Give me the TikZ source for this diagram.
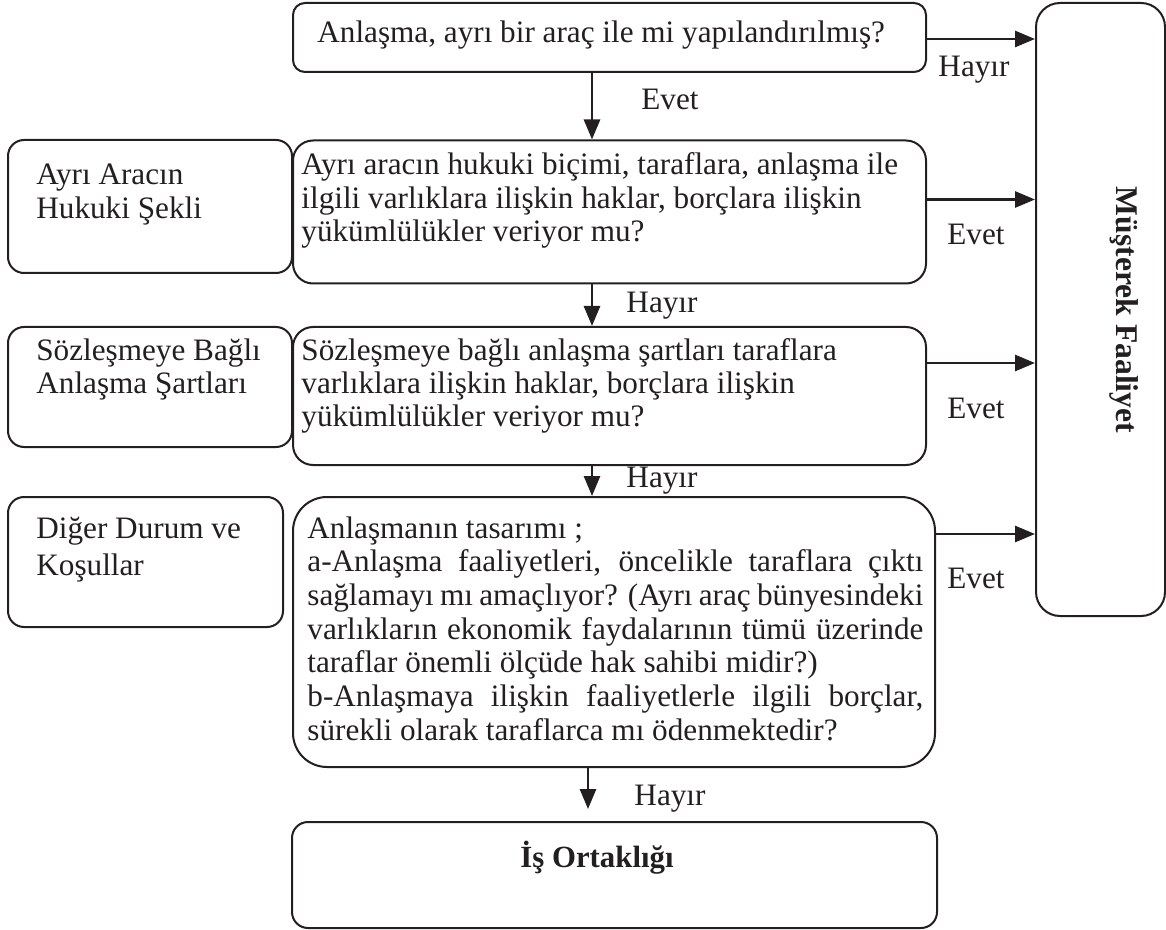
\documentclass[tikz,border=0pt]{standalone}
\usepackage{fontspec}
\setmainfont{Liberation Serif}
\usetikzlibrary{arrows.meta,calc}
\definecolor{ink}{HTML}{231F20}

\tikzset{
  box/.style={draw=ink, line width=1pt, rounded corners=#1, inner sep=0pt},
  box/.default=7pt,
  txt/.style={text=ink, inner sep=0pt, anchor=base west, font=\fontsize{15.6}{16.7}\selectfont},
  lbl/.style={text=ink, inner sep=0pt, anchor=base, font=\fontsize{15.6}{16.7}\selectfont},
  arr/.style={draw=ink, line width=1.4pt, -{Triangle[length=10pt,width=8pt]}},
}

\begin{document}
\begin{tikzpicture}[x=0.5pt,y=-0.5pt]
\useasboundingbox (0,0) rectangle (1166,930);

% question boxes (middle column)
\node[box=6pt,  minimum width=316.5pt, minimum height=34.5pt] (q1) at (609.5,37.5) {};
\node[box=10pt, minimum width=316.5pt, minimum height=71.5pt] (q2) at (609.5,212) {};
\node[box=10pt, minimum width=316.5pt, minimum height=69pt]   (q3) at (609.5,396) {};
\node[box=17pt, minimum width=321pt,   minimum height=135pt]  (q4) at (614,632) {};

% criteria boxes (left column)
\node[box=8pt, minimum width=142pt,   minimum height=66.5pt] (l1) at (150,206.5) {};
\node[box=8pt, minimum width=142pt,   minimum height=60pt]   (l2) at (150,387) {};
\node[box=8pt, minimum width=137.5pt, minimum height=65pt]   (l3) at (145.5,562) {};

% outcome boxes
\node[box=12pt, minimum width=64.5pt,  minimum height=306.5pt] (mf)  at (1100.5,309.5) {};
\node[box=8pt,  minimum width=322.5pt, minimum height=53pt]    (res) at (614.5,875) {};

% texts
\node[txt] (t1) at (317,43) {Anlaşma, ayrı bir araç ile mi yapılandırılmış?};
\node[txt] (t2) at (301,175) {\parbox[t]{320pt}{Ayrı aracın hukuki biçimi, taraflara, anlaşma ile\\
ilgili varlıklara ilişkin haklar, borçlara ilişkin\\
yükümlülükler veriyor mu?}};
\node[txt] (t3) at (301,360) {\parbox[t]{320pt}{Sözleşmeye bağlı anlaşma şartları taraflara\\
varlıklara ilişkin haklar, borçlara ilişkin\\
yükümlülükler veriyor mu?}};
\node[txt] (t4) at (307,538) {\parbox[t]{308pt}{\baselineskip=16.85pt
Anlaşmanın tasarımı ;\\
\makebox[\linewidth][s]{a-Anlaşma faaliyetleri, öncelikle taraflara çıktı}\\
\makebox[\linewidth][s]{sağlamayı mı amaçlıyor? (Ayrı araç bünyesindeki}\\
\makebox[\linewidth][s]{varlıkların ekonomik faydalarının tümü üzerinde}\\
taraflar önemli ölçüde hak sahibi midir?)\\
\makebox[\linewidth][s]{b-Anlaşmaya ilişkin faaliyetlerle ilgili borçlar,}\\
sürekli olarak taraflarca mı ödenmektedir?}};

\node[txt] (lt1) at (36,185) {\parbox[t]{130pt}{Ayrı Aracın\\Hukuki Şekli}};
\node[txt] (lt2) at (36,360) {\parbox[t]{130pt}{Sözleşmeye Bağlı\\Anlaşma Şartları}};
\node[txt] (lt3) at (36,538) {\parbox[t]{130pt}{\baselineskip=18.5pt Diğer Durum ve\\Koşullar}};

\node[lbl, anchor=center, rotate=-90, font=\fontsize{15.8}{16.7}\selectfont\bfseries] (mft) at (1124,310) {Müşterek Faaliyet};
\node[lbl, font=\fontsize{15.4}{16.7}\selectfont\bfseries] (rt) at (597,867) {İş Ortaklığı};

% vertical flow
\coordinate (c1) at (592,0);
\coordinate (c2) at (588,0);
\draw[arr] (q1.south -| c1) -- (q2.north -| c1);
\draw[arr] (q2.south -| c1) -- (q3.north -| c1);
\draw[arr] (q3.south -| c1) -- (q4.north -| c1);
\draw[arr] (q4.south -| c2) -- ($(res.north -| c2)+(0,-12)$);

% branches to the right
\coordinate (r1) at ($(q1.north east)+(0,37)$);
\coordinate (r2) at ($(q2.north east)+(0,60)$);
\coordinate (r3) at ($(q3.north east)+(0,37)$);
\coordinate (r4) at ($(q4.north east)+(0,38)$);
\draw[arr] (r1) -- (r1 -| mf.west);
\draw[arr] (r2) -- (r2 -| mf.west);
\draw[arr] (r3) -- (r3 -| mf.west);
\draw[arr] (r4) -- (r4 -| mf.west);

% branch labels
\node[lbl] (ev1) at (670,110) {Evet};
\node[lbl] (hy1) at (974,77)  {Hayır};
\node[lbl] (ev2) at (976,245) {Evet};
\node[lbl] (ev3) at (976,418) {Evet};
\node[lbl] (ev4) at (976,588) {Evet};
\node[lbl] (hy2) at (662,313) {Hayır};
\node[lbl] (hy3) at (662,487) {Hayır};
\node[lbl] (hy4) at (670,805) {Hayır};
\end{tikzpicture}
\end{document}
